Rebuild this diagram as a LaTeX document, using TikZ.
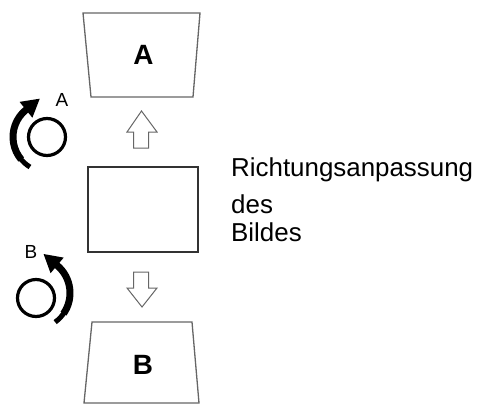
\documentclass[tikz,border=0pt]{standalone}
\usepackage{fontspec}
\setmainfont{Liberation Sans}
\usetikzlibrary{arrows.meta}
\begin{document}
\begin{tikzpicture}[x=1bp,y=1bp,
  trap/.style={draw=black!60, line width=1.3bp},
  box/.style={draw=black!80, line width=1.4bp},
  hollow/.style={draw=black!60, line width=1bp, fill=white, line join=miter},
  rotarc/.style={draw=black, line width=7bp, -{Triangle[length=18bp,width=19bp]}},
  rottail/.style={draw=black, line width=5bp},
  ring/.style={draw=black, line width=3.2bp},
  big/.style={font=\fontsize{28}{30}\selectfont\bfseries, inner sep=0},
  small/.style={font=\fontsize{19}{21}\selectfont, inner sep=0},
  caption/.style={font=\fontsize{26}{28}\selectfont, anchor=base west, inner sep=0}]
\useasboundingbox (0,0) rectangle (479,406);
% trapezoids
\draw[trap] (83,393) -- (200,393) -- (193,309) -- (91,309) -- cycle;
\node[big] (la) at (143.5,351) {A};
\draw[trap] (92,84) -- (192,84) -- (199,3) -- (84,3) -- cycle;
\node[big] (lb) at (143,41) {B};
% image box
\draw[box] (88,154) rectangle (198,239);
% hollow arrows
\draw[hollow] (133.5,258) -- (133.5,274) -- (127,274) -- (141.5,295) -- (157,274) -- (148.5,274) -- (148.5,258) -- cycle;
\draw[hollow] (133.5,134) -- (133.5,118) -- (127,118) -- (142,99) -- (157,118) -- (148.5,118) -- (148.5,134) -- cycle;
% rotation A
\draw[ring] (47,269) circle[radius=18.5];
\draw[rottail] ([shift={(48,269)}]239:35) arc[start angle=239,end angle=215,radius=35];
\draw[rotarc] ([shift={(48,269)}]220:35) arc[start angle=220,end angle=129,radius=35] -- ++(14,11.3);
\node[small] (ra) at (62,306) {A};
% rotation B
\draw[ring] (36,108) circle[radius=18.5];
\draw[rottail] ([shift={(34,113)}]-54:36) arc[start angle=-54,end angle=-30,radius=36];
\draw[rotarc] ([shift={(34,113)}]-35:36) arc[start angle=-35,end angle=50,radius=36] -- ++(-13.8,11.6);
\node[small] (rb) at (31,154.5) {B};
% caption
\node[caption] (c1) at (231,230) {Richtungsanpassung};
\node[caption] (c2) at (231,193) {des};
\node[caption] (c3) at (231,165) {Bildes};
\end{tikzpicture}
\end{document}
